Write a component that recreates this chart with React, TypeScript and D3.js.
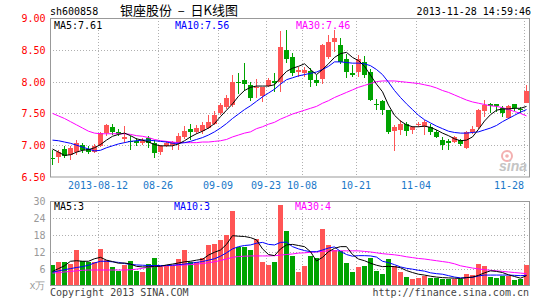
import React from 'react';
import * as d3 from 'd3';

const opens = [6.80,6.82,6.94,6.85,6.90,7.00,6.94,6.90,6.98,7.19,
7.29,7.20,7.10,7.07,7.07,7.03,7.11,7.03,6.90,6.99,
7.00,7.03,7.13,7.25,7.20,7.22,7.27,7.33,7.50,7.60,
7.63,8.00,8.02,7.94,7.90,7.77,7.93,8.01,8.00,8.50,
8.38,8.15,8.14,8.16,8.02,8.04,8.38,8.63,8.57,8.36,
8.13,8.15,8.31,8.15,7.65,7.69,7.55,7.22,7.24,7.34,
7.24,7.32,7.29,7.29,7.20,7.08,7.06,7.05,7.08,6.96,
7.21,7.28,7.53,7.65,7.64,7.58,7.43,7.64,7.57,7.67];
const highs = [6.93,6.93,6.98,6.98,7.08,7.04,6.98,7.02,7.21,7.33,
7.33,7.25,7.30,7.14,7.11,7.11,7.14,7.08,7.00,7.07,
7.07,7.19,7.30,7.33,7.31,7.37,7.48,7.53,7.67,7.79,
8.10,8.14,8.30,7.99,8.04,7.92,8.05,8.13,8.80,8.81,
8.45,8.23,8.23,8.21,8.10,8.59,8.74,8.85,8.68,8.44,
8.26,8.42,8.41,8.20,7.72,7.71,7.55,7.31,7.39,7.36,
7.30,7.37,7.40,7.34,7.24,7.13,7.10,7.15,7.10,7.23,
7.30,7.57,7.71,7.66,7.65,7.61,7.63,7.65,7.60,7.94];
const lows = [6.69,6.72,6.80,6.77,6.85,6.88,6.86,6.87,6.97,7.14,
7.16,7.14,7.04,6.93,6.99,7.00,6.95,6.80,6.85,6.97,
6.93,6.92,7.10,7.08,7.17,7.17,7.25,7.32,7.48,7.57,
7.60,7.81,7.86,7.70,7.74,7.68,7.91,7.84,7.84,8.29,
8.09,8.08,8.08,7.92,7.93,7.96,8.35,8.46,8.28,8.06,
8.07,8.08,8.05,7.70,7.55,7.48,7.18,6.91,7.16,7.15,
7.18,7.28,7.16,7.16,7.11,6.93,6.93,7.03,6.98,6.94,
7.18,7.26,7.44,7.50,7.52,7.44,7.41,7.54,7.50,7.66];
const closes = [6.78,6.90,6.83,6.96,7.04,6.92,6.89,6.99,7.19,7.31,
7.20,7.18,7.13,7.05,7.03,7.07,7.04,6.87,6.98,7.04,
7.05,7.14,7.22,7.20,7.27,7.32,7.37,7.48,7.63,7.74,
8.00,7.98,7.97,7.74,7.91,7.92,8.02,7.98,8.54,8.36,
8.13,8.19,8.19,8.03,7.98,8.58,8.63,8.69,8.31,8.15,
8.11,8.35,8.10,7.71,7.63,7.55,7.20,7.29,7.33,7.22,
7.28,7.33,7.37,7.20,7.13,7.01,7.04,7.13,7.02,7.21,
7.25,7.56,7.63,7.62,7.62,7.51,7.62,7.58,7.56,7.85];
const volumes = [7.3,8.4,8.4,7.6,12.6,8.7,8.5,8.3,13.0,9.1,
6.6,5.2,7.3,8.7,5.2,4.7,7.6,9.9,6.7,7.0,
7.0,9.4,12.6,8.3,8.3,9.9,14.4,14.8,16.2,17.9,
26.4,13.5,13.8,12.6,16.5,8.5,7.3,8.3,28.6,19.4,
10.3,4.7,7.1,10.3,9.9,20.1,14.4,12.6,12.3,8.1,
4.7,6.7,7.1,9.9,5.0,4.0,9.4,6.8,4.7,3.1,
2.4,2.8,3.4,2.8,2.8,2.4,2.4,2.4,2.4,4.0,
3.8,7.6,7.0,3.1,2.6,3.4,3.4,2.0,2.4,7.3];
const ma5 = [6.94,6.89,6.84,6.85,6.89,6.92,6.93,6.96,7.01,7.08,
7.14,7.17,7.19,7.15,7.10,7.08,7.05,7.01,6.99,6.99,
6.99,7.02,7.07,7.13,7.18,7.22,7.27,7.34,7.45,7.55,
7.65,7.77,7.86,7.91,7.93,7.93,7.93,7.95,8.06,8.16,
8.21,8.24,8.28,8.19,8.11,8.19,8.28,8.38,8.44,8.46,
8.38,8.33,8.24,8.10,7.96,7.84,7.63,7.47,7.38,7.32,
7.29,7.29,7.30,7.28,7.24,7.19,7.15,7.10,7.07,7.08,
7.13,7.25,7.38,7.48,7.55,7.57,7.57,7.58,7.58,7.61];
const ma10 = [7.08,7.07,7.05,7.03,7.00,6.97,6.94,6.91,6.92,6.96,
6.99,7.02,7.04,7.06,7.07,7.08,7.08,7.07,7.06,7.05,
7.03,7.03,7.04,7.06,7.09,7.12,7.16,7.21,7.27,7.34,
7.42,7.49,7.56,7.62,7.69,7.76,7.82,7.88,7.96,8.03,
8.06,8.09,8.11,8.13,8.15,8.19,8.24,8.31,8.31,8.30,
8.29,8.29,8.28,8.25,8.19,8.11,7.99,7.86,7.75,7.65,
7.56,7.47,7.40,7.35,7.30,7.26,7.22,7.20,7.19,7.19,
7.20,7.21,7.24,7.27,7.31,7.37,7.42,7.47,7.52,7.56];
const ma30 = [7.50,7.46,7.42,7.37,7.32,7.27,7.22,7.19,7.18,7.18,
7.18,7.18,7.18,7.17,7.15,7.14,7.12,7.09,7.07,7.06,
7.05,7.04,7.04,7.04,7.04,7.05,7.05,7.06,7.07,7.09,
7.13,7.16,7.19,7.21,7.26,7.29,7.33,7.36,7.41,7.45,
7.49,7.52,7.55,7.58,7.61,7.66,7.70,7.75,7.79,7.83,
7.87,7.91,7.94,7.97,8.00,8.01,8.01,8.01,8.00,7.99,
7.98,7.97,7.95,7.93,7.90,7.86,7.83,7.79,7.75,7.71,
7.68,7.66,7.64,7.62,7.61,7.59,7.56,7.53,7.50,7.46];
const vma5 = [5.0,6.0,7.0,8.6,8.8,8.6,8.6,9.5,10.0,9.0,
8.5,7.9,8.0,7.6,6.8,6.6,6.6,6.8,6.8,7.3,
7.6,8.0,8.4,8.6,9.0,9.3,10.8,11.8,12.6,14.6,
17.7,17.5,17.4,17.0,16.2,13.0,11.0,10.6,13.0,14.4,
14.6,14.2,13.8,12.0,8.7,10.0,12.0,13.2,13.8,13.8,
11.0,9.4,8.8,7.9,7.2,6.7,6.8,6.7,6.3,5.3,
4.6,4.0,3.7,3.3,3.0,2.8,2.7,2.6,2.5,2.8,
3.0,3.6,4.5,5.2,5.0,4.6,3.8,3.2,2.6,3.5];
const vma10 = [4.7,5.2,5.6,6.0,6.4,6.7,7.2,8.0,8.6,8.6,
8.4,8.2,7.8,7.5,7.3,7.2,7.1,7.1,7.1,7.1,
7.2,7.4,7.6,7.9,8.2,8.5,9.0,9.5,10.4,11.6,
13.0,13.8,14.2,14.4,15.0,15.3,14.6,14.4,15.3,15.4,
13.8,13.0,12.4,12.0,12.0,12.6,13.3,13.7,12.1,11.0,
10.4,10.6,10.6,10.5,10.1,8.6,8.1,7.4,6.6,6.1,
5.8,5.4,5.1,4.5,4.2,4.0,3.5,3.0,2.7,2.8,
2.9,3.4,3.7,3.7,3.7,3.7,3.7,3.6,3.5,3.6];
const vma30 = [4.4,4.6,4.8,5.0,5.2,5.4,5.5,5.5,5.5,5.5,
5.5,5.5,5.5,5.6,5.8,6.1,6.5,6.7,6.8,7.0,
7.1,7.2,7.3,7.4,7.6,7.8,8.1,8.4,8.9,9.4,
10.0,10.3,10.4,10.5,10.5,10.5,10.5,10.6,10.8,11.0,
11.2,11.5,11.6,11.8,11.9,12.1,12.3,12.3,12.3,12.3,
12.3,12.3,12.1,11.9,11.6,11.3,11.1,10.9,10.6,10.2,
9.9,9.6,9.4,9.1,8.8,8.5,8.2,7.7,7.0,6.6,
6.2,5.9,5.6,5.4,5.2,5.0,4.8,4.6,4.4,4.2];

const tickIndex = [8, 18, 28, 36, 42, 51, 61, 79];
const tickLabels = ['2013-08-12', '08-26', '09-09', '09-23', '10-08', '10-21', '11-04', '11-28'];
const priceTicks = [9.0, 8.5, 8.0, 7.5, 7.0, 6.5];
const priceGrid = [8.5, 8.0, 7.5, 7.0];
const volTicks = [30, 24, 18, 12, 6];
const volGrid = [24, 18, 12, 6];

const MONO = "'DejaVu Sans Mono', monospace";
const RED = '#ff5555';
const GREEN = '#00a300';
const BORDER = '#999999';
const GRID = '#b0b0b0';
const DATEBLUE = '#1a78c8';

export default function App() {
  const W = 545, H = 300;
  const n = closes.length;
  const x = d3.scaleLinear().domain([0, 80]).range([50, 530]);
  const y = d3.scaleLinear().domain([6.5, 9]).range([177, 18]);
  const yv = d3.scaleLinear().domain([0, 30]).range([285.5, 201]);
  const cx = (i: number) => x(i) + 2.5;
  const lineP = d3.line<number>().x((_, i) => cx(i)).y((d) => y(d));
  const lineV = d3.line<number>().x((_, i) => cx(i)).y((d) => yv(d));
  const up = (i: number) => closes[i] >= opens[i];

  const candles = d3.range(n).map((i) => {
    const col = up(i) ? RED : GREEN;
    const top = Math.round(y(Math.max(opens[i], closes[i])));
    const bot = Math.round(y(Math.min(opens[i], closes[i])));
    const hTop = Math.round(y(highs[i]));
    const hBot = Math.round(y(lows[i]));
    return (
      <g key={i}>
        <rect x={x(i) + 2} y={hTop} width={1} height={Math.max(1, hBot - hTop)} fill={col} />
        <rect x={x(i)} y={top} width={5} height={Math.max(1, bot - top)} fill={col} />
      </g>
    );
  });

  const vbars = d3.range(n).map((i) => {
    const t = Math.round(yv(volumes[i]));
    return <rect key={i} x={x(i)} y={t} width={5} height={285 - t} fill={up(i) ? RED : GREEN} />;
  });

  const lineStyle = { fill: 'none', strokeWidth: 1 } as const;

  return (
    <svg width={W} height={H} style={{ position: 'absolute', left: 0, top: 0, background: '#fff' }}
      fontFamily={MONO} fontSize={10}>
      <rect x={0} y={0} width={W} height={H} fill="#fff" />
      {/* header */}
      <text x={50} y={15} fill="#000">sh600858</text>
      <text x={120} y={15} fill="#000" fontFamily="'Noto Sans CJK SC', sans-serif" fontSize={13}
        style={{ whiteSpace: 'pre' }}>{'银座股份  –  日K线图'}</text>
      <text x={531} y={15} fill="#000" textAnchor="end">2013-11-28 14:59:46</text>

      {/* price grid */}
      {priceGrid.map((p) => (
        <line key={p} x1={50} x2={530} y1={Math.round(y(p)) + 0.5} y2={Math.round(y(p)) + 0.5}
          stroke={GRID} strokeDasharray="1,2" />
      ))}
      {tickIndex.map((t) => (
        <line key={'v' + t} x1={x(t) + 0.5} x2={x(t) + 0.5} y1={18} y2={177} stroke={GRID} strokeDasharray="1,2" />
      ))}
      {volGrid.map((v) => (
        <line key={'g' + v} x1={50} x2={530} y1={Math.round(yv(v)) + 0.5} y2={Math.round(yv(v)) + 0.5}
          stroke={GRID} strokeDasharray="1,2" />
      ))}
      {tickIndex.map((t) => (
        <line key={'vv' + t} x1={x(t) + 0.5} x2={x(t) + 0.5} y1={201} y2={285} stroke={GRID} strokeDasharray="1,2" />
      ))}

      {/* candles */}
      {candles}
      <path d={lineP(ma30) || ''} stroke="#ff00ff" {...lineStyle} />
      <path d={lineP(ma10) || ''} stroke="#0000ff" {...lineStyle} />
      <path d={lineP(ma5) || ''} stroke="#000000" {...lineStyle} />

      {/* sina watermark */}
      <circle cx={507} cy={156} r={5} fill="none" stroke="#f3b0b0" strokeWidth={2} />
      <circle cx={507} cy={156} r={1.8} fill="#f3b0b0" />
      <text x={527} y={171} textAnchor="end" fill="#c4c4c4" fontFamily="'Liberation Sans', sans-serif"
        fontWeight="bold" fontStyle="italic" fontSize={14}>sina</text>

      {/* volume */}
      {vbars}
      <path d={lineV(vma30) || ''} stroke="#ff00ff" {...lineStyle} />
      <path d={lineV(vma10) || ''} stroke="#0000ff" {...lineStyle} />
      <path d={lineV(vma5) || ''} stroke="#000000" {...lineStyle} />

      {/* borders */}
      <rect x={50.5} y={18.5} width={479} height={158.5} fill="none" stroke={BORDER} />
      <rect x={50.5} y={201.5} width={479} height={84} fill="none" stroke={BORDER} />

      {/* MA headers */}
      <rect x={53} y={20} width={50} height={10} fill="#fff" />
      <text x={54} y={28.5} fill="#000">MA5:7.61</text>
      <rect x={174} y={20} width={56} height={10} fill="#fff" />
      <text x={175} y={28.5} fill="#0000ff">MA10:7.56</text>
      <rect x={295} y={20} width={56} height={10} fill="#fff" />
      <text x={296} y={28.5} fill="#ff00ff">MA30:7.46</text>

      <rect x={53} y={203} width={32} height={9} fill="#fff" />
      <text x={54} y={210} fill="#000">MA5:3</text>
      <rect x={173} y={203} width={38} height={9} fill="#fff" />
      <text x={174} y={210} fill="#0000ff">MA10:3</text>
      <rect x={294} y={203} width={38} height={9} fill="#fff" />
      <text x={295} y={210} fill="#ff00ff">MA30:4</text>

      {/* price axis */}
      {priceTicks.map((p) => (
        <text key={'pt' + p} x={45.5} y={Math.round(y(p)) + 4} textAnchor="end" fill="#ff0000">{p.toFixed(2)}</text>
      ))}
      {/* date axis */}
      {tickIndex.map((t, k) => (
        <text key={'dl' + t} x={x(t)}
          y={189} textAnchor={k === tickIndex.length - 1 ? 'end' : 'middle'} fill={DATEBLUE}>{tickLabels[k]}</text>
      ))}
      {/* volume axis */}
      {volTicks.map((v) => (
        <text key={'vt' + v} x={45.5} y={Math.round(yv(v)) + 4} textAnchor="end" fill="#999999">{v}</text>
      ))}
      <text x={45.5} y={289} textAnchor="end" fill="#999999">x万</text>

      {/* footer */}
      <text x={50} y={296} fill="#444">Copyright 2013 SINA.COM</text>
      <text x={529} y={296} textAnchor="end" fill="#444">http://finance.sina.com.cn</text>
    </svg>
  );
}
